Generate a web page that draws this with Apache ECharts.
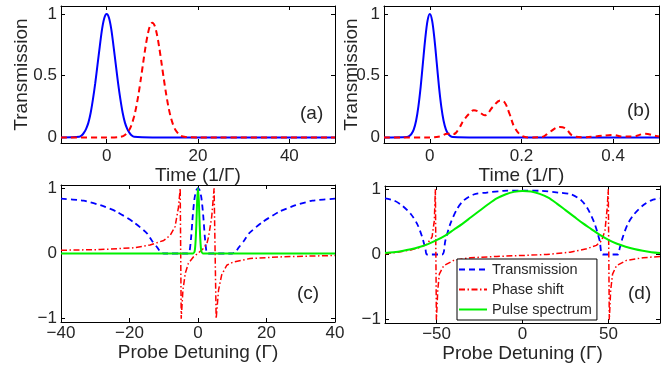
<!DOCTYPE html>
<html><head><meta charset="utf-8">
<script src="https://cdn.jsdelivr.net/npm/echarts@6/dist/echarts.min.js"></script>
<style>html,body{margin:0;padding:0;background:#fff}#c{width:671px;height:368px}</style>
</head><body><div id="c"></div>
<script>
// ---- Panel (a): time domain, 1/Gamma ----
const aBlueX = [-10,-6,-5.5,-5,-4.5,-4,-3.5,-3,-2.5,-2,-1.5,-1,-0.5,0,0.5,1,1.5,2,2.5,3,3.5,4,4.5,5,5.5,6,10,20,30,40,50];
const aBlueY = [0,0.005,0.015,0.037,0.07,0.12,0.2,0.31,0.44,0.59,0.74,0.88,0.97,1,0.97,0.88,0.74,0.59,0.44,0.31,0.2,0.12,0.07,0.037,0.015,0.005,0,0,0,0,0];
const aRedX = [-10,0,3,4,5,5.5,6,6.5,7,7.5,8,8.5,9,9.5,10,10.5,11,11.5,12,12.5,13,13.5,14,14.5,15,16,17,20,50];
const aRedY = [0,0,0.005,0.02,0.065,0.108,0.169,0.252,0.357,0.478,0.607,0.732,0.836,0.906,0.93,0.906,0.836,0.732,0.607,0.478,0.357,0.252,0.169,0.108,0.065,0.02,0.005,0,0];
// ---- Panel (b) ----
const bBlueX = [-0.1,-0.05,-0.045,-0.04,-0.035,-0.03,-0.025,-0.02,-0.015,-0.01,-0.005,0,0.005,0.01,0.015,0.02,0.025,0.03,0.035,0.04,0.045,0.05,0.1,0.2,0.3,0.4,0.5];
const bBlueY = [0,0.004,0.011,0.029,0.066,0.135,0.25,0.41,0.607,0.8,0.946,1,0.946,0.8,0.607,0.41,0.25,0.135,0.066,0.029,0.011,0.004,0,0,0,0,0];
const bRedX = [-0.1,0,0.024,0.038,0.052,0.063,0.074,0.088,0.096,0.106,0.12,0.138,0.154,0.163,0.174,0.185,0.2,0.217,0.246,0.26,0.284,0.297,0.311,0.333,0.362,0.4,0.42,0.442,0.47,0.49,0.5];
const bRedY = [0,0,0.01,0.03,0.027,0.07,0.14,0.2,0.22,0.21,0.18,0.25,0.3,0.285,0.19,0.08,0.015,0,0.005,0.04,0.085,0.07,0.015,0.002,0.008,0.02,0.007,0.007,0.03,0.015,0.007];
// ---- Panel (c): probe detuning ----
const cBlueX = [-40,-33.4,-28.5,-23.7,-18.8,-14.9,-13.5,-12,-11,-10,-3,-2.5,-2,-1.5,-1,-0.5,0,0.5,1,1.5,2,2.5,3,10,11,12,13.5,14.9,18.8,23.7,28.5,33.4,40];
const cBlueY = [0.84,0.81,0.74,0.64,0.48,0.31,0.2,0.1,0.025,0,0,0.02,0.25,0.6,0.85,0.97,1,0.97,0.85,0.6,0.25,0.02,0,0,0.025,0.1,0.2,0.31,0.48,0.64,0.74,0.81,0.84];
const cRedX = [-40,-28.5,-18.8,-14,-10,-8.1,-6.7,-5.7,-5.2,-4.9,-4.4,-3.7,-2.8,-1.3,0.15,1.6,2.6,3.1,4,4.7,5.3,6,6.9,8.4,10.3,15.2,25,40];
const cRedY = [0.05,0.06,0.087,0.13,0.2,0.28,0.41,0.71,1,-1,-0.56,-0.3,-0.15,-0.05,0.01,0.077,0.15,0.26,0.56,1,-1,-0.56,-0.33,-0.18,-0.13,-0.077,-0.05,-0.03];
const cGreenX = [-40,-1.5,-1,-0.75,-0.5,-0.25,0,0.25,0.5,0.75,1,1.5,40];
const cGreenY = [0,0,0.03,0.15,0.42,0.8,1,0.8,0.42,0.15,0.03,0,0];
// ---- Panel (d) ----
const dBlueX = [-80,-75,-70,-65,-61.3,-58.4,-56.5,-55.5,-46.8,-44.9,-42,-38,-34.2,-28.4,-20.7,-11,0,11,20.7,28.4,34.2,38,42,44.9,46.8,55.5,56.5,58.4,61.3,65,70,75,80];
const dBlueY = [0.86,0.83,0.75,0.62,0.47,0.27,0.09,0,0,0.21,0.47,0.7,0.83,0.92,0.95,0.975,0.98,0.975,0.95,0.92,0.83,0.7,0.47,0.21,0,0,0.09,0.27,0.47,0.62,0.75,0.83,0.86];
const dRedX = [-80,-73,-65,-59.4,-55.5,-52.6,-51.3,-50.7,-50.1,-49.3,-48.4,-45.8,-40,-30.4,-15,0,14,27.7,37.3,43,46,48,49.3,49.9,50.5,51.3,52.4,54.7,60.5,70.2,80];
const dRedY = [0.01,0.035,0.07,0.11,0.16,0.27,0.52,1,-1,-0.55,-0.3,-0.17,-0.09,-0.05,-0.03,-0.015,0,0.035,0.087,0.14,0.21,0.37,0.72,1,-1,-0.55,-0.3,-0.17,-0.09,-0.05,-0.03];
const dGreenX = [-80,-75,-70,-65,-60,-55,-50,-45,-40,-35,-30,-25,-20,-15,-10,-5,0,5,10,15,20,25,30,35,40,45,50,55,60,65,70,75,80];
const dGreenY = [0.022,0.035,0.054,0.08,0.115,0.16,0.22,0.29,0.38,0.47,0.57,0.67,0.77,0.86,0.92,0.96,0.975,0.965,0.93,0.87,0.78,0.68,0.58,0.48,0.39,0.3,0.225,0.165,0.12,0.083,0.056,0.036,0.023];
// ---- tick labels ----
const aTicksX = [0,20,40];
const bTicksX = [0,0.2,0.4];
const cTicksX = [-40,-20,0,20,40];
const dTicksX = [-50,0,50];
const topTicksY = [0,0.5,1];
const botTicksY = [-1,0,1];
const legendNames = ['Transmission','Phase shift','Pulse spectrum'];

const FONT = 'Liberation Sans, Arial, Helvetica, sans-serif';
const TXT = '#262626';
const zip = (xs, ys) => xs.map((x, i) => [x, ys[i]]);
const fmt = v => String(v).replace('-', '\u2212');

const grids = [
  {left: 61, top: 6, width: 274, height: 137},
  {left: 384, top: 6, width: 275, height: 137},
  {left: 61, top: 185, width: 274, height: 137},
  {left: 385, top: 186, width: 275, height: 137}
];
const xSpec = [
  {min: -10, max: 50, ticks: aTicksX, name: 'Time (1/\u0393)', gap: 19, margin: 5},
  {min: -0.1, max: 0.5, ticks: bTicksX, name: 'Time (1/\u0393)', gap: 19, margin: 5},
  {min: -40, max: 40, ticks: cTicksX, name: 'Probe Detuning (\u0393)', gap: 15, margin: 3},
  {min: -80, max: 80, ticks: dTicksX, name: 'Probe Detuning (\u0393)', gap: 15, margin: 3}
];
const ySpec = [
  {min: -0.045, max: 1.065, ticks: topTicksY, name: 'Transmission', gap: 30},
  {min: -0.045, max: 1.065, ticks: topTicksY, name: 'Transmission', gap: 23},
  {min: -1.05, max: 1.05, ticks: botTicksY, name: '', gap: 0},
  {min: -1.05, max: 1.05, ticks: botTicksY, name: '', gap: 0}
];
const lineCommon = {show: true, onZero: false, lineStyle: {color: '#000', width: 1}};
const xAxis = [], yAxis = [];
for (let i = 0; i < 4; i++) {
  const xs = xSpec[i], ys = ySpec[i];
  xAxis.push({
    type: 'value', gridIndex: i, position: 'bottom', min: xs.min, max: xs.max,
    axisLine: lineCommon, splitLine: {show: false},
    axisTick: {inside: true, length: 4, customValues: xs.ticks, lineStyle: {color: '#000'}},
    axisLabel: {customValues: xs.ticks, formatter: fmt, fontSize: 17, color: TXT, fontFamily: FONT, margin: xs.margin},
    name: xs.name, nameLocation: 'middle', nameGap: xs.gap,
    nameTextStyle: {fontSize: 19, color: TXT, fontFamily: FONT}
  });
  xAxis.push({
    type: 'value', gridIndex: i, position: 'top', min: xs.min, max: xs.max,
    axisLine: lineCommon, splitLine: {show: false},
    axisTick: {inside: true, length: 4, customValues: xs.ticks, lineStyle: {color: '#000'}},
    axisLabel: {show: false}
  });
  yAxis.push({
    type: 'value', gridIndex: i, position: 'left', min: ys.min, max: ys.max,
    axisLine: lineCommon, splitLine: {show: false},
    axisTick: {inside: true, length: 4, customValues: ys.ticks, lineStyle: {color: '#000'}},
    axisLabel: {customValues: ys.ticks, formatter: fmt, fontSize: 17, color: TXT, fontFamily: FONT, margin: 4},
    name: ys.name, nameLocation: 'middle', nameGap: ys.gap, nameMoveOverlap: false,
    nameTextStyle: {fontSize: 19, color: TXT, fontFamily: FONT}
  });
  yAxis.push({
    type: 'value', gridIndex: i, position: 'right', min: ys.min, max: ys.max,
    axisLine: lineCommon, splitLine: {show: false},
    axisTick: {inside: true, length: 4, customValues: ys.ticks, lineStyle: {color: '#000'}},
    axisLabel: {show: false}
  });
}
const BLUE = '#0000ff', RED = '#ff0000', GREEN = '#00f000';
function ser(name, g, xs, ys, color, width, type, smooth) {
  return {
    name: name, type: 'line', xAxisIndex: 2 * g, yAxisIndex: 2 * g,
    data: zip(xs, ys), showSymbol: false, symbol: 'none', smooth: smooth || false,
    lineStyle: {color: color, width: width, type: type}, itemStyle: {color: color},
    emphasis: {disabled: true}, silent: true, z: 2
  };
}
const DASH = [6, 4], DASHDOT = [6, 2.5, 1.5, 2.5];
const series = [
  ser('a1', 0, aBlueX, aBlueY, BLUE, 2, 'solid', 0.3),
  ser('a2', 0, aRedX, aRedY, RED, 2, DASH, 0.3),
  ser('b1', 1, bBlueX, bBlueY, BLUE, 2, 'solid', 0.3),
  ser('b2', 1, bRedX, bRedY, RED, 2, DASH, 0.4),
  ser('c1', 2, cBlueX, cBlueY, BLUE, 1.8, DASH, 0.2),
  ser('c2', 2, cRedX, cRedY, RED, 1.5, DASHDOT, false),
  ser('c3', 2, cGreenX, cGreenY, GREEN, 2, 'solid', 0.2),
  ser(legendNames[0], 3, dBlueX, dBlueY, BLUE, 1.8, DASH, 0.3),
  ser(legendNames[1], 3, dRedX, dRedY, RED, 1.5, DASHDOT, false),
  ser(legendNames[2], 3, dGreenX, dGreenY, GREEN, 2, 'solid', 0.3)
];
const chart = echarts.init(document.getElementById('c'), null, {renderer: 'canvas'});
chart.setOption({
  animation: false,
  backgroundColor: '#fff',
  textStyle: {fontFamily: FONT},
  grid: grids,
  xAxis: xAxis,
  yAxis: yAxis,
  series: series,
  legend: {
    data: legendNames, orient: 'vertical', left: 457, top: 259,
    itemWidth: 28, itemHeight: 14, itemGap: 5, padding: [3, 5, 3, 1],
    itemStyle: {opacity: 0},
    borderColor: '#000', borderWidth: 1, backgroundColor: '#fff', borderRadius: 0,
    textStyle: {fontSize: 14.5, color: TXT, fontFamily: FONT}, selectedMode: false, z: 10
  },
  graphic: [
    {type: 'text', left: 300, top: 104, style: {text: '(a)', fontSize: 19, fill: TXT, fontFamily: FONT}},
    {type: 'text', left: 627, top: 101, style: {text: '(b)', fontSize: 19, fill: TXT, fontFamily: FONT}},
    {type: 'text', left: 297, top: 284, style: {text: '(c)', fontSize: 19, fill: TXT, fontFamily: FONT}},
    {type: 'text', left: 628, top: 284, style: {text: '(d)', fontSize: 19, fill: TXT, fontFamily: FONT}}
  ]
});
</script></body></html>
